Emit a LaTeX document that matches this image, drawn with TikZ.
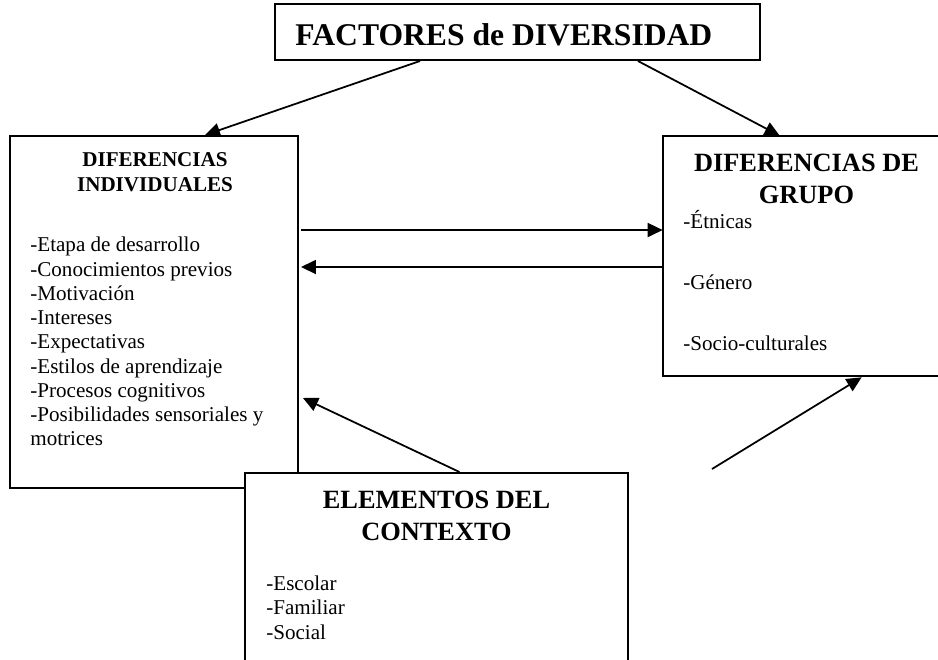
\documentclass[tikz,border=0pt]{standalone}
\usepackage{fontspec}
\setmainfont{Liberation Serif}
\usetikzlibrary{arrows.meta}

\begin{document}
\begin{tikzpicture}[x=0.02cm, y=-0.02cm,
  box/.style={draw, line width=1.15pt, fill=white, inner sep=0pt},
  edge/.style={line width=1.15pt},
  arrow/.style={-{Triangle[length=0.3cm, width=0.28cm]}, line width=1pt},
  title/.style={font=\bfseries\fontsize{18}{21}\selectfont, inner sep=0pt},
  head/.style={font=\bfseries\fontsize{15}{18}\selectfont, align=center, inner sep=0pt},
  smallhead/.style={font=\bfseries\fontsize{12}{14.5}\selectfont, align=center, inner sep=0pt},
  items/.style={font=\fontsize{12}{13.8}\selectfont, align=left, inner sep=0pt},
]
  \useasboundingbox (0,0) rectangle (938,660);
  \clip (0,0) rectangle (938,660);

  % Boxes
  \node[box, minimum width=5.76cm, minimum height=7.04cm] (indiv) at (154, 312) {};
  \node[box, minimum width=9.7cm, minimum height=1.12cm] (factores) at (517.5, 32) {};
  \node[inner sep=0pt, minimum width=7cm, minimum height=4.8cm] (grupo) at (838, 256) {};
  \draw[edge] (grupo.north east) -- (grupo.north west) -- (grupo.south west) -- (grupo.south east);
  \node[box, minimum width=7.66cm, minimum height=4.94cm] (contexto) at (436.5, 596.5) {};
  \coordinate (libre) at (712, 469);

  % Texts
  \node[title, anchor=base west] (factorestxt) at (295, 45) {FACTORES de DIVERSIDAD};
  \node[smallhead, anchor=north] (indivhead) at (155, 152) {DIFERENCIAS\\INDIVIDUALES};
  \node[items, anchor=north west] (indivlist) at (30, 237) {-Etapa de desarrollo\\-Conocimientos previos\\-Motivación\\-Intereses\\-Expectativas\\-Estilos de aprendizaje\\-Procesos cognitivos\\-Posibilidades sensoriales y\\motrices};
  \node[head, anchor=north] (grupohead) at (806.5, 153.6) {DIFERENCIAS DE\\GRUPO};
  \node[items, anchor=base west] (etnicas) at (683, 228) {-Étnicas};
  \node[items, anchor=base west] (genero) at (683, 289) {-Género};
  \node[items, anchor=base west] (socio) at (683, 350) {-Socio-culturales};
  \node[head, anchor=north] (contextohead) at (436.5, 490.6) {ELEMENTOS DEL\\CONTEXTO};
  \node[items, anchor=north west] (contextolist) at (266, 575.6) {-Escolar\\-Familiar\\-Social};

  % Arrows between boxes
  \draw[arrow] ([xshift=-1.95cm]factores.south) -- ([xshift=1.02cm]indiv.north);
  \draw[arrow] ([xshift=2.41cm]factores.south) -- ([xshift=2.34cm]grupo.north west);
  \draw[arrow] ([xshift=0.04cm, yshift=1.64cm]indiv.east) -- ([yshift=1.64cm]indiv.east -| grupo.west);
  \draw[arrow] ([yshift=0.9cm]indiv.east -| grupo.west) -- ([xshift=0.04cm, yshift=0.9cm]indiv.east);
  \draw[arrow] ([xshift=0.46cm]contexto.north) -- ([xshift=0.08cm, yshift=-1.72cm]indiv.east);
  \draw[arrow] (libre) -- ([xshift=3.98cm, yshift=-0.02cm]grupo.south west);
\end{tikzpicture}
\end{document}
